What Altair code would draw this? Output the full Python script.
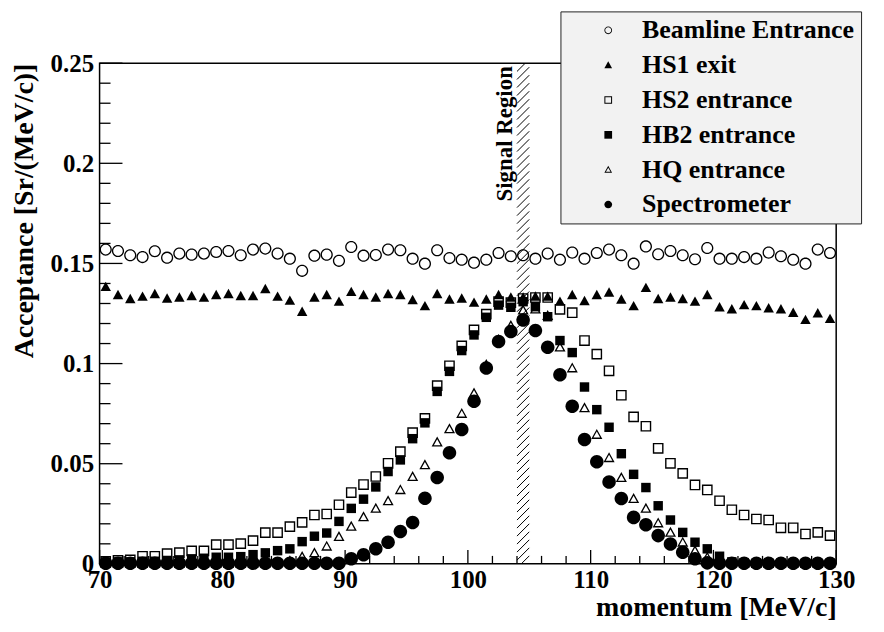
import altair as alt
import pandas as pd
import numpy as np

# ---------------- data ----------------
MOMENTUM = [70.5, 71.5, 72.5, 73.5, 74.5, 75.5, 76.5, 77.5, 78.5, 79.5,
            80.5, 81.5, 82.5, 83.5, 84.5, 85.5, 86.5, 87.5, 88.5, 89.5,
            90.5, 91.5, 92.5, 93.5, 94.5, 95.5, 96.5, 97.5, 98.5, 99.5,
            100.5, 101.5, 102.5, 103.5, 104.5, 105.5, 106.5, 107.5, 108.5, 109.5,
            110.5, 111.5, 112.5, 113.5, 114.5, 115.5, 116.5, 117.5, 118.5, 119.5,
            120.5, 121.5, 122.5, 123.5, 124.5, 125.5, 126.5, 127.5, 128.5, 129.5]

SERIES = ["Beamline Entrance", "HS1 exit", "HS2 entrance",
          "HB2 entrance", "HQ entrance", "Spectrometer"]

BEAMLINE = [0.1569, 0.1562, 0.1541, 0.1532, 0.1561, 0.1529, 0.1549, 0.1544, 0.1549, 0.1557,
            0.1562, 0.1541, 0.1569, 0.1574, 0.1549, 0.1524, 0.1463, 0.1539, 0.1544, 0.1513,
            0.1582, 0.1539, 0.1542, 0.1569, 0.1566, 0.1524, 0.1499, 0.1566, 0.1527, 0.1519,
            0.1504, 0.1519, 0.1552, 0.1536, 0.1541, 0.1524, 0.1549, 0.1519, 0.1554, 0.1524,
            0.1552, 0.1569, 0.1541, 0.1499, 0.1585, 0.1546, 0.1562, 0.1541, 0.1521, 0.1577,
            0.1524, 0.1524, 0.1532, 0.1524, 0.1554, 0.1536, 0.1519, 0.1499, 0.1569, 0.1552]

HS1 = [0.1383, 0.1342, 0.1322, 0.1334, 0.1347, 0.1325, 0.1330, 0.1337, 0.1329, 0.1342,
       0.1347, 0.1337, 0.1337, 0.1372, 0.1334, 0.1314, 0.1259, 0.1330, 0.1342, 0.1309,
       0.1358, 0.1342, 0.1330, 0.1347, 0.1342, 0.1317, 0.1287, 0.1347, 0.1320, 0.1325,
       0.1304, 0.1320, 0.1342, 0.1330, 0.1330, 0.1335, 0.1334, 0.1309, 0.1342, 0.1312,
       0.1342, 0.1355, 0.1320, 0.1287, 0.1378, 0.1322, 0.1330, 0.1322, 0.1309, 0.1342,
       0.1281, 0.1271, 0.1292, 0.1287, 0.1276, 0.1271, 0.1254, 0.1218, 0.1251, 0.1223]

HS2 = [0.0012, 0.0017, 0.0020, 0.0038, 0.0038, 0.0051, 0.0056, 0.0065, 0.0065, 0.0096,
       0.0096, 0.0101, 0.0116, 0.0156, 0.0156, 0.0186, 0.0207, 0.0244, 0.0249, 0.0295,
       0.0356, 0.0396, 0.0436, 0.0502, 0.0560, 0.0655, 0.0726, 0.0890, 0.0989, 0.1088,
       0.1168, 0.1247, 0.1309, 0.1304, 0.1325, 0.1330, 0.1330, 0.1271, 0.1254, 0.1115,
       0.1047, 0.0964, 0.0842, 0.0734, 0.0687, 0.0577, 0.0502, 0.0452, 0.0394, 0.0369,
       0.0315, 0.0270, 0.0244, 0.0224, 0.0219, 0.0180, 0.0180, 0.0149, 0.0157, 0.0141]

HB2 = [0.0008, 0.0010, 0.0010, 0.0013, 0.0013, 0.0017, 0.0020, 0.0025, 0.0028, 0.0033,
       0.0033, 0.0036, 0.0046, 0.0055, 0.0066, 0.0075, 0.0111, 0.0138, 0.0154, 0.0212,
       0.0277, 0.0323, 0.0384, 0.0461, 0.0519, 0.0625, 0.0704, 0.0861, 0.0961, 0.1065,
       0.1143, 0.1231, 0.1292, 0.1281, 0.1309, 0.1284, 0.1234, 0.1115, 0.1055, 0.0883,
       0.0770, 0.0682, 0.0550, 0.0447, 0.0381, 0.0290, 0.0219, 0.0157, 0.0108, 0.0075,
       0.0038, 0.0010, 0.0006, 0.0005, 0.0004, 0.0004, 0.0003, 0.0003, 0.0003, 0.0003]

HQ = [0.0002, 0.0002, 0.0002, 0.0002, 0.0002, 0.0002, 0.0002, 0.0002, 0.0002, 0.0002,
      0.0002, 0.0002, 0.0002, 0.0004, 0.0007, 0.0015, 0.0036, 0.0055, 0.0088, 0.0136,
      0.0187, 0.0235, 0.0277, 0.0315, 0.0370, 0.0436, 0.0494, 0.0608, 0.0674, 0.0751,
      0.0853, 0.0995, 0.1120, 0.1190, 0.1267, 0.1272, 0.1240, 0.1082, 0.0978, 0.0779,
      0.0646, 0.0530, 0.0431, 0.0326, 0.0277, 0.0204, 0.0157, 0.0108, 0.0066, 0.0033,
      0.0015, 0.0005, 0.0003, 0.0002, 0.0002, 0.0002, 0.0002, 0.0002, 0.0002, 0.0002]

SPECTRO = [0.0003, 0.0003, 0.0003, 0.0003, 0.0003, 0.0003, 0.0003, 0.0003, 0.0003, 0.0003,
           0.0003, 0.0003, 0.0003, 0.0003, 0.0003, 0.0003, 0.0003, 0.0003, 0.0003, 0.0003,
           0.0025, 0.0046, 0.0075, 0.0108, 0.0162, 0.0207, 0.0328, 0.0431, 0.0555, 0.0671,
           0.0812, 0.0978, 0.1110, 0.1160, 0.1218, 0.1165, 0.1082, 0.0944, 0.0787, 0.0621,
           0.0510, 0.0409, 0.0326, 0.0232, 0.0195, 0.0141, 0.0099, 0.0058, 0.0025, 0.0005,
           0.0003, 0.0003, 0.0003, 0.0003, 0.0003, 0.0003, 0.0003, 0.0003, 0.0003, 0.0003]

SIGNAL_REGION = [104.0, 105.0]
SIGNAL_LABEL = "Signal Region"

X_MAJOR = [70, 80, 90, 100, 110, 120, 130]
X_MINOR = [72, 74, 76, 78, 82, 84, 86, 88, 92, 94, 96, 98, 102, 104, 106, 108,
           112, 114, 116, 118, 122, 124, 126, 128]
Y_MAJOR = [0.0, 0.05, 0.10, 0.15, 0.20, 0.25]
Y_MINOR = [0.01, 0.02, 0.03, 0.04, 0.06, 0.07, 0.08, 0.09, 0.11, 0.12, 0.13, 0.14,
           0.16, 0.17, 0.18, 0.19, 0.21, 0.22, 0.23, 0.24]

# ---------------- style ----------------
W, H = 740, 503
FONT = "Liberation Serif"

# ROOT-like marker glyphs as filled SVG paths (open markers have a hole)
RING = ("M -1 0 A 1 1 0 1 0 1 0 A 1 1 0 1 0 -1 0 Z "
        "M -0.78 0 A 0.78 0.78 0 1 1 0.78 0 A 0.78 0.78 0 1 1 -0.78 0 Z")
DISC = "M -1 0 A 1 1 0 1 0 1 0 A 1 1 0 1 0 -1 0 Z"
TRI = "M 0 -1 L 1 0.8 L -1 0.8 Z"
TRI_OPEN = ("M 0 -1 L 1 0.8 L -1 0.8 Z "
            "M 0 -0.52 L -0.6 0.56 L 0.6 0.56 Z")
SQ = "M -1 -1 L 1 -1 L 1 1 L -1 1 Z"
SQ_OPEN = ("M -1 -1 L 1 -1 L 1 1 L -1 1 Z "
           "M -0.74 -0.74 L -0.74 0.74 L 0.74 0.74 L 0.74 -0.74 Z")
SHAPES = [RING, TRI, SQ_OPEN, SQ, TRI_OPEN, DISC]
SIZES = [150, 110, 115, 90, 125, 185]

rows = []
for name, vals, sz in zip(SERIES, [BEAMLINE, HS1, HS2, HB2, HQ, SPECTRO], SIZES):
    for m, v in zip(MOMENTUM, vals):
        rows.append({"momentum": m, "acceptance": v, "series": name, "sz": sz})
df = pd.DataFrame(rows)

xscale = alt.Scale(domain=[70, 130], nice=False, zero=False)
yscale = alt.Scale(domain=[0, 0.25], nice=False, zero=True)

legend = alt.Legend(
    orient="none", legendX=463, legendY=-52, title=None,
    fillColor="#f2f2f2", strokeColor="#222222", padding=6, cornerRadius=0,
    symbolOffset=29, labelOffset=21, rowPadding=9,
    labelFont=FONT, labelFontWeight="bold", labelFontSize=26, labelColor="black",
    labelLimit=400, symbolSize=60, symbolFillColor="black", symbolStrokeWidth=0,
)

xaxis = alt.Axis(
    values=X_MAJOR, ticks=False, domain=False, grid=False, labelFlush=False,
    labelOverlap=False, labelFont=FONT, labelFontWeight="bold", labelFontSize=25,
    labelColor="black", labelPadding=4,
    title="momentum [MeV/c]", titleFont=FONT, titleFontWeight="bold", titleFontSize=28,
    titleColor="black", titleAnchor="end", titleAlign="right", titleBaseline="middle",
    titleX=W, titleY=44,
)
yaxis = alt.Axis(
    values=Y_MAJOR, ticks=False, domain=False, grid=False, labelFlush=False,
    labelOverlap=False, labelFont=FONT, labelFontWeight="bold", labelFontSize=25,
    labelColor="black", labelPadding=6, format="~g",
    title="Acceptance [Sr/(MeV/c)]", titleFont=FONT, titleFontWeight="bold",
    titleFontSize=28, titleColor="black", titleAnchor="end", titleAngle=270,
    titleAlign="right", titleBaseline="middle", titleX=-75, titleY=0,
)

points = alt.Chart(df).mark_point(
    filled=True, color="black", strokeWidth=0, opacity=1
).encode(
    x=alt.X("momentum:Q", scale=xscale, axis=xaxis),
    y=alt.Y("acceptance:Q", scale=yscale, axis=yaxis),
    shape=alt.Shape("series:N", scale=alt.Scale(domain=SERIES, range=SHAPES), legend=legend),
    size=alt.Size("sz:Q", scale=None),
)

# hatched signal region (45 degree lines)
rise = 0.25 / H * (SIGNAL_REGION[1] - SIGNAL_REGION[0]) * W / 60.0
starts = np.arange(-rise, 0.25 + 0.004, 0.004)
hatch_df = pd.DataFrame({
    "x1": SIGNAL_REGION[0], "x2": SIGNAL_REGION[1],
    "y1": starts, "y2": starts + rise,
})
hatch = alt.Chart(hatch_df).mark_rule(color="black", strokeWidth=1, clip=True).encode(
    x=alt.X("x1:Q", scale=xscale), x2="x2:Q",
    y=alt.Y("y1:Q", scale=yscale), y2="y2:Q",
)

label_df = pd.DataFrame({"x": [SIGNAL_REGION[0]], "y": [0.25], "t": [SIGNAL_LABEL]})
sig_text = alt.Chart(label_df).mark_text(
    angle=270, align="right", baseline="bottom", font=FONT, fontWeight="bold",
    fontSize=23, color="black", dx=-3,
).encode(
    x=alt.X("x:Q", scale=xscale),
    y=alt.Y("y:Q", scale=yscale),
    text="t:N",
)

# inward ticks
def yticks(vals, length):
    return alt.Chart(pd.DataFrame({"v": vals})).mark_rule(color="black", strokeWidth=1.3).encode(
        y=alt.Y("v:Q", scale=yscale),
        x=alt.value(0), x2=alt.value(length),
    )

def xticks(vals, length):
    return alt.Chart(pd.DataFrame({"v": vals})).mark_rule(color="black", strokeWidth=1.3).encode(
        x=alt.X("v:Q", scale=xscale),
        y=alt.value(H), y2=alt.value(H - length),
    )

chart = alt.layer(
    points,
    yticks(Y_MAJOR, 23), yticks(Y_MINOR, 11),
    xticks(X_MAJOR, 14), xticks(X_MINOR, 8),
    hatch, sig_text,
).properties(
    width=W, height=H,
    autosize=alt.AutoSizeParams(type="none"),
    padding={"left": 92, "top": 54, "right": 40, "bottom": 59},
    background="white",
).configure_view(
    stroke="black", strokeWidth=1.5,
)

chart.save("out.html", embed_options={"renderer": "svg", "actions": False})
